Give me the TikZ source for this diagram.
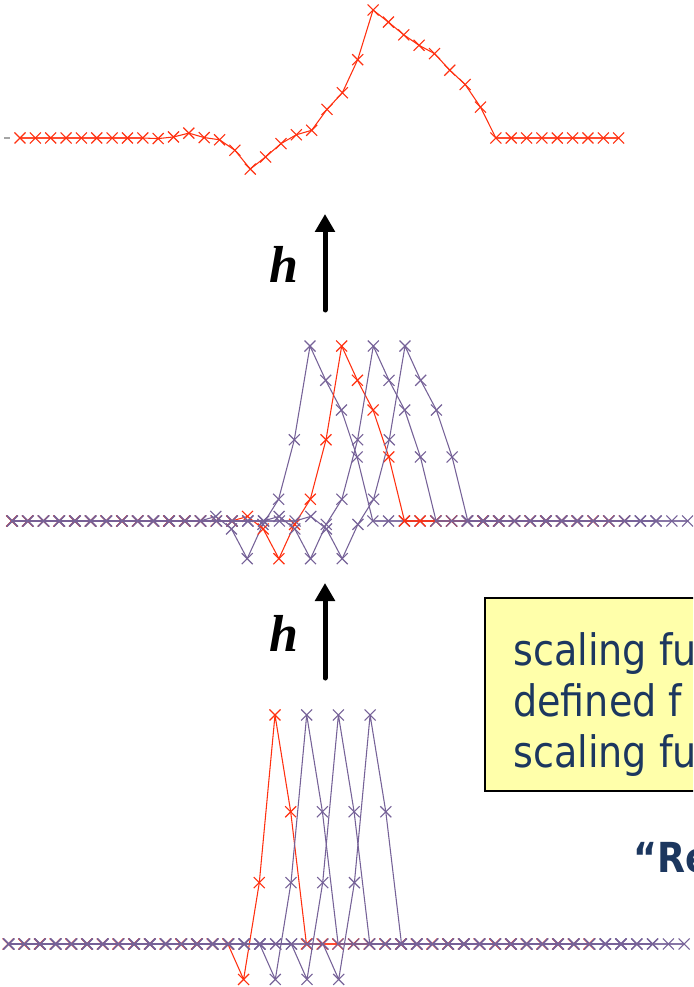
\documentclass[tikz,border=0pt]{standalone}
\usepackage{fontspec}
\setmainfont{Liberation Serif}
\newfontfamily\boxfont[FakeStretch=0.88]{DejaVu Sans}
\usetikzlibrary{arrows.meta}
\definecolor{wred}{RGB}{255,48,16}
\definecolor{wpur}{RGB}{118,98,152}
\definecolor{navy}{RGB}{28,55,95}
\definecolor{boxyellow}{RGB}{255,255,170}
\tikzset{
  curve/.style={line width=0.8pt, line join=round},
  flat/.style={line width=1.8pt, opacity=0.6},
  xmark/.style={line width=0.85pt},
  harrow/.style={line width=3.75pt, line cap=round, -{Triangle[length=13.5pt,width=14.5pt]}},
  hlabel/.style={anchor=base, inner sep=0pt, font=\fontsize{39}{40}\selectfont\bfseries\itshape},
  boxtext/.style={anchor=base west, inner sep=0pt, text=navy, font=\boxfont\fontsize{32.5}{38}\selectfont},
  notebox/.style={draw=black, fill=boxyellow, line width=1.2pt, anchor=north west, inner sep=0pt, minimum width=190pt, minimum height=144.75pt},
}
\newcommand\xmk[3]{\draw[xmark,#1] ({(#2)-5.5},{(#3)-5.5}) -- ({(#2)+5.5},{(#3)+5.5}) ({(#2)-5.5},{(#3)+5.5}) -- ({(#2)+5.5},{(#3)-5.5});}
% #1 colour, #2 peak x, #3 first m, #4 last m, #5 first curve m, #6 last curve m, #7 values
\newcommand\wavser[7]{%
  \pgfmathtruncatemacro\wkA{#5-1}%
  \pgfmathtruncatemacro\wkB{#6+1}%
  \draw[flat,#1] ({#2+(#3)*\lvS},\lvY) -- ({#2+(\wkA)*\lvS},\lvY)
                 ({#2+(\wkB)*\lvS},\lvY) -- ({#2+(#4)*\lvS},\lvY);
  \draw[curve,#1] ({#2+(#3)*\lvS},\lvY) -- ({#2+(\wkA)*\lvS},\lvY)
     \foreach \v [count=\i from #5] in {#7} { -- ({#2+(\i)*\lvS},{\lvY-(\v)*\lvK}) }
     -- ({#2+(\wkB)*\lvS},\lvY) -- ({#2+(#4)*\lvS},\lvY);
  \foreach \m in {#3,...,\wkA} {\xmk{#1}{#2+(\m)*\lvS}{\lvY}}
  \foreach \m in {\wkB,...,#4} {\xmk{#1}{#2+(\m)*\lvS}{\lvY}}
  \foreach \v [count=\i from #5] in {#7} {\xmk{#1}{#2+(\i)*\lvS}{\lvY-(\v)*\lvK}}
}
\begin{document}
\begin{tikzpicture}[x=0.75pt,y=-0.75pt]
\fill[white] (0,0) rectangle (693,987);
\clip (0,0) rectangle (693,987);

% ---------- top level ----------
\draw[gray!70, line width=1.2pt] (4,138) -- (10,138);
\def\lvS{15.35}\def\lvY{138}\def\lvK{96.95}
\wavser{wred}{373.05}{-23}{16}{-14}{7}{-0.00613,0.01062,0.05024,0.00449,-0.01839,-0.12664,-0.32027,-0.19527,-0.05801,0.03349,0.07925,0.29575,0.46651,0.80801,1.32027,1.19528,1.06414,0.95589,0.87052,0.69976,0.55189,0.31863}

% ---------- middle level ----------
\def\lvS{15.7}\def\lvY{521}\def\lvK{137.3}
\wavser{wpur}{310}{-19}{17}{-6}{3}{0.0335,-0.0580,-0.2745,-0.0245,0.1585,0.5915,1.2745,1.0245,0.8080,0.4665}
\wavser{wred}{341.7}{-21}{18}{-6}{3}{0.0335,-0.0580,-0.2745,-0.0245,0.1585,0.5915,1.2745,1.0245,0.8080,0.4665}
\wavser{wpur}{373.3}{-23}{18}{-6}{3}{0.0335,-0.0580,-0.2745,-0.0245,0.1585,0.5915,1.2745,1.0245,0.8080,0.4665}
\wavser{wpur}{405}{-25}{18}{-6}{3}{0.0335,-0.0580,-0.2745,-0.0245,0.1585,0.5915,1.2745,1.0245,0.8080,0.4665}

% ---------- bottom level ----------
\def\lvS{15.7}\def\lvY{944}\def\lvK{193.6}
\wavser{wred}{275}{-17}{20}{-2}{1}{-0.1830,0.3170,1.1830,0.6830}
\wavser{wpur}{306.7}{-19}{20}{-2}{1}{-0.1830,0.3170,1.1830,0.6830}
\wavser{wpur}{338.4}{-21}{20}{-2}{1}{-0.1830,0.3170,1.1830,0.6830}
\wavser{wpur}{370.1}{-23}{20}{-2}{1}{-0.1830,0.3170,1.1830,0.6830}

% ---------- arrows with h ----------
\coordinate (a1s) at (325,310);
\coordinate (a1e) at (325,214);
\draw[harrow] (a1s) -- (a1e);
\node[hlabel] (h1) at (284,282) {h};
\coordinate (a2s) at (325,678);
\coordinate (a2e) at (325,583);
\draw[harrow] (a2s) -- (a2e);
\node[hlabel] (h2) at (284,651) {h};

% ---------- note box ----------
\node[notebox] (box) at (484,597) {};
\node[boxtext] (t1) at (513,665) {scaling fu};
\node[boxtext] (t2) at (513,716.5) {defined f};
\node[boxtext] (t3) at (513,767) {scaling fu};
\node[boxtext, font=\boxfont\bfseries\fontsize{31}{36}\selectfont] (re) at (633,872) {“Re};
\end{tikzpicture}
\end{document}
